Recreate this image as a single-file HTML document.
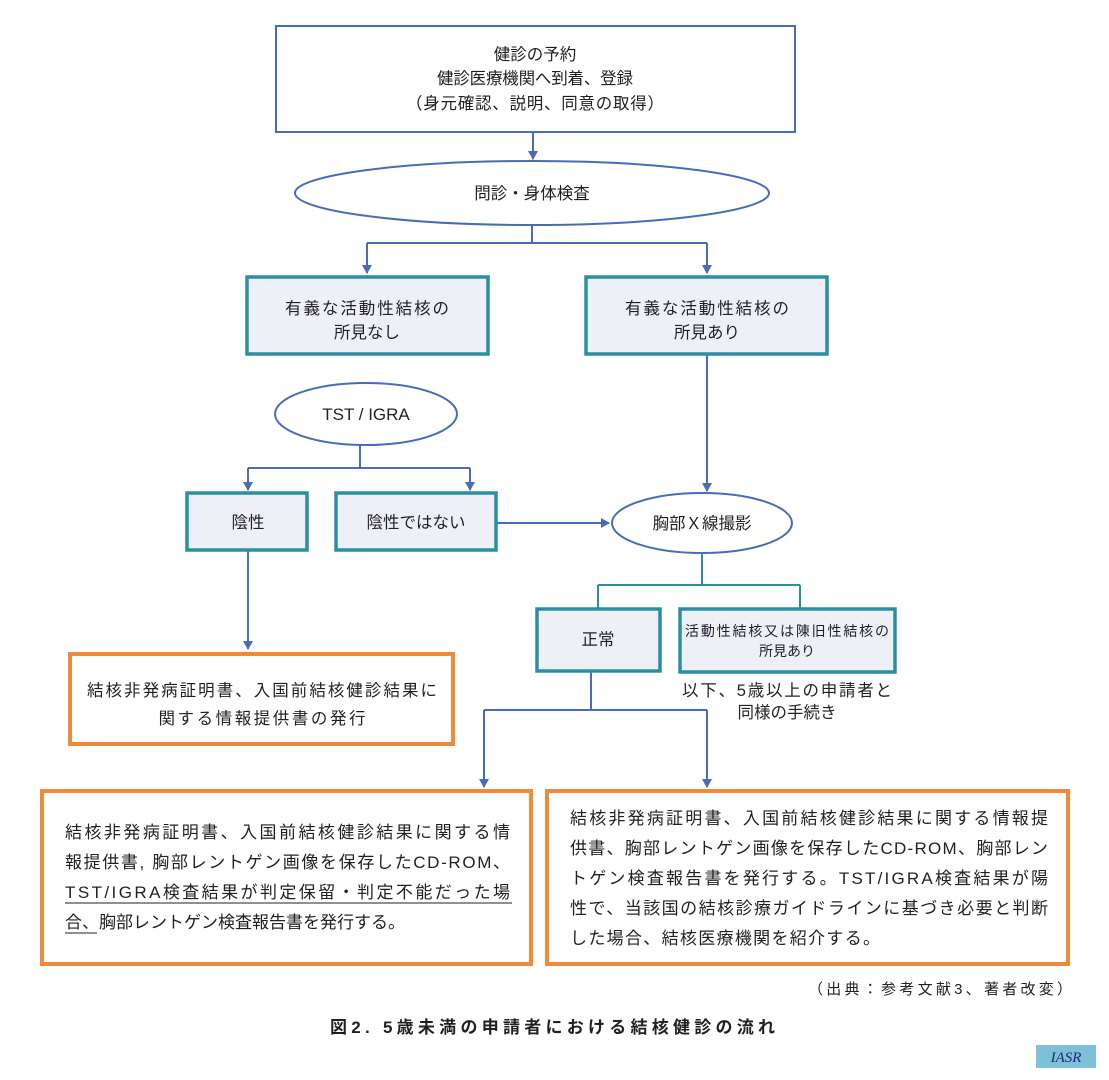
<!DOCTYPE html>
<html><head><meta charset="utf-8"><style>
html,body{margin:0;padding:0;background:#fff;}
svg{display:block;font-family:"Liberation Sans","Noto Sans CJK JP",sans-serif;}
text{fill:#231f20;}
</style></head><body>
<svg width="1109" height="1080" viewBox="0 0 1109 1080" xmlns="http://www.w3.org/2000/svg">
<defs>
<marker id="a" markerWidth="10" markerHeight="10" refX="8" refY="5" orient="auto" markerUnits="userSpaceOnUse">
<path d="M0,0 L9,5 L0,10 z" fill="#4a6cb8"/></marker>
</defs>
<g fill="none" stroke="#4a6cb8" stroke-width="2">
<rect x="276" y="26" width="519" height="106"/>
<line x1="533" y1="132" x2="533" y2="159" marker-end="url(#a)"/>
<ellipse cx="532" cy="193" rx="237" ry="32"/>
<polyline points="532,225 532,243"/>
<line x1="367" y1="243" x2="707" y2="243"/>
<line x1="367" y1="243" x2="367" y2="273" marker-end="url(#a)"/>
<line x1="707" y1="243" x2="707" y2="273" marker-end="url(#a)"/>
<ellipse cx="366" cy="414" rx="91" ry="31"/>
<line x1="360" y1="445" x2="360" y2="468"/>
<line x1="248" y1="468" x2="470" y2="468"/>
<line x1="248" y1="468" x2="248" y2="490" marker-end="url(#a)"/>
<line x1="470" y1="468" x2="470" y2="490" marker-end="url(#a)"/>
<line x1="497" y1="523" x2="609" y2="523" marker-end="url(#a)"/>
<line x1="707" y1="355" x2="707" y2="491" marker-end="url(#a)"/>
<ellipse cx="702" cy="523" rx="90" ry="30"/>
<line x1="248" y1="551" x2="248" y2="649" marker-end="url(#a)"/>
<line x1="591" y1="672" x2="591" y2="710"/>
<line x1="484" y1="710" x2="707" y2="710"/>
<line x1="484" y1="710" x2="484" y2="787" marker-end="url(#a)"/>
<line x1="707" y1="710" x2="707" y2="787" marker-end="url(#a)"/>
</g>
<g fill="none" stroke="#2a8fa0" stroke-width="2">
<line x1="702" y1="553" x2="702" y2="585"/>
<line x1="598" y1="585" x2="800" y2="585"/>
<line x1="598" y1="585" x2="598" y2="608"/>
<line x1="800" y1="585" x2="800" y2="608"/>
</g>
<g fill="#eef0f8" stroke="#2a8fa0" stroke-width="3.5">
<rect x="247" y="277" width="241" height="77"/>
<rect x="586" y="277" width="241" height="77"/>
<rect x="187" y="493" width="120" height="57"/>
<rect x="336" y="493" width="160" height="57"/>
<rect x="537" y="609" width="123" height="62"/>
<rect x="680" y="609" width="215" height="63"/>
</g>
<g fill="#fff" stroke="#ef8a3a" stroke-width="4">
<rect x="70" y="654" width="383" height="90"/>
<rect x="42" y="791" width="489" height="173"/>
<rect x="547" y="791" width="521" height="173"/>
</g>
<g font-size="16.5" text-anchor="middle" lengthAdjust="spacing">
<text x="535" y="60">健診の予約</text>
<text x="535" y="84" textLength="196">健診医療機関へ到着、登録</text>
<text x="535" y="109" textLength="258">（身元確認、説明、同意の取得）</text>
<text x="532" y="199">問診・身体検査</text>
<text x="367" y="314" textLength="164">有義な活動性結核の</text>
<text x="367" y="338">所見なし</text>
<text x="707" y="314" textLength="164">有義な活動性結核の</text>
<text x="707" y="338">所見あり</text>
<text x="366" y="420" font-size="17">TST / IGRA</text>
<text x="248" y="528">陰性</text>
<text x="416" y="528">陰性ではない</text>
<text x="702" y="529">胸部Ｘ線撮影</text>
<text x="598" y="645">正常</text>
<text x="787" y="636" font-size="14" textLength="204">活動性結核又は陳旧性結核の</text>
<text x="787" y="656" font-size="14">所見あり</text>
<text x="787" y="696" textLength="210">以下、5歳以上の申請者と</text>
<text x="787" y="718">同様の手続き</text>
<text x="262" y="696" textLength="350">結核非発病証明書、入国前結核健診結果に</text>
<text x="262" y="724" textLength="207">関する情報提供書の発行</text>
</g>
<g font-size="17" lengthAdjust="spacing">
<text x="65" y="838" textLength="445">結核非発病証明書、入国前結核健診結果に関する情</text>
<text x="65" y="868" textLength="445">報提供書, 胸部レントゲン画像を保存したCD-ROM、</text>
<text x="65" y="898" textLength="445">TST/IGRA検査結果が判定保留・判定不能だった場</text>
<text x="65" y="928" textLength="340">合、胸部レントゲン検査報告書を発行する。</text>
<text x="570" y="824" textLength="478">結核非発病証明書、入国前結核健診結果に関する情報提</text>
<text x="570" y="854" textLength="478">供書、胸部レントゲン画像を保存したCD-ROM、胸部レン</text>
<text x="570" y="884" textLength="478">トゲン検査報告書を発行する。TST/IGRA検査結果が陽</text>
<text x="570" y="914" textLength="478">性で、当該国の結核診療ガイドラインに基づき必要と判断</text>
<text x="570" y="944" textLength="310">した場合、結核医療機関を紹介する。</text>
</g>
<line x1="65" y1="903" x2="512" y2="903" stroke="#231f20" stroke-width="1"/>
<line x1="65" y1="933" x2="97" y2="933" stroke="#231f20" stroke-width="1"/>
<text x="808" y="994" font-size="15" textLength="264" lengthAdjust="spacing">（出典：参考文献3、著者改変）</text>
<text x="330" y="1033" font-size="17" font-weight="bold" textLength="445" lengthAdjust="spacing">図2. 5歳未満の申請者における結核健診の流れ</text>
<rect x="1036" y="1045" width="60" height="23" fill="#7ec0d8"/>
<text x="1066" y="1062" font-size="15" font-style="italic" font-family="Liberation Serif,serif" text-anchor="middle" style="fill:#1c2a7a">IASR</text>
</svg>
</body></html>
